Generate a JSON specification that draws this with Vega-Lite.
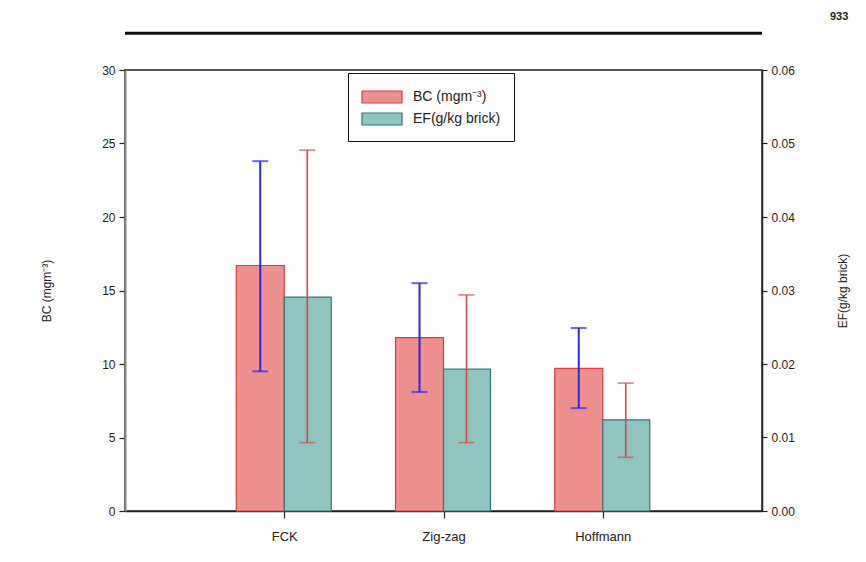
{
  "$schema": "https://vega.github.io/schema/vega-lite/v6.json",
  "width": 637,
  "height": 441,
  "autosize": {"type": "none"},
  "padding": {"left": 125, "top": 70, "right": 104, "bottom": 51},
  "background": "white",
  "title": {"text": "933", "anchor": "end", "frame": "bounds", "fontSize": 11, "fontWeight": "bold", "font": "Liberation Sans", "color": "#222", "offset": 10},
  "config": {
    "font": "Liberation Sans",
    "view": {"stroke": "#222", "strokeWidth": 1.5},
    "axis": {"labelFont": "Liberation Sans", "labelFontSize": 12, "labelColor": "#222", "titleFont": "Liberation Sans", "titleFontSize": 12, "titleFontWeight": "normal", "titleColor": "#222", "grid": false, "domainColor": "#222", "tickColor": "#222", "domainWidth": 1.5, "tickWidth": 1.2}
  },
  "data": {"values": [
    {"kiln": "FCK", "bc": 16.7, "bc_lo": 9.5, "bc_hi": 23.8, "ef": 0.0291, "ef_lo": 0.0093, "ef_hi": 0.0491},
    {"kiln": "Zig-zag", "bc": 11.8, "bc_lo": 8.1, "bc_hi": 15.5, "ef": 0.0193, "ef_lo": 0.0093, "ef_hi": 0.0294},
    {"kiln": "Hoffmann", "bc": 9.7, "bc_lo": 7.0, "bc_hi": 12.45, "ef": 0.0124, "ef_lo": 0.0073, "ef_hi": 0.0174}
  ]},
  "layer": [
    {
      "layer": [
        {
          "mark": {"type": "bar", "width": 48, "xOffset": -24, "strokeWidth": 1.2},
          "encoding": {
            "x": {"field": "kiln", "type": "nominal", "scale": {"type": "point", "domain": ["L", "FCK", "Zig-zag", "Hoffmann", "R"], "padding": 0},
              "axis": {"title": null, "values": ["FCK", "Zig-zag", "Hoffmann"], "tickSize": 7, "labelPadding": 12, "labelFontSize": 13, "labelAngle": 0}},
            "y": {"field": "bc", "type": "quantitative", "title": "BC (mgm⁻³)", "scale": {"domain": [0, 30], "nice": false},
              "axis": {"values": [0, 5, 10, 15, 20, 25, 30], "tickSize": 6, "labelPadding": 4, "titlePadding": 48, "domainColor": "#888", "domainWidth": 2}},
            "fill": {"datum": "BC (mgm⁻³)", "type": "nominal", "scale": {"domain": ["BC (mgm⁻³)", "EF(g/kg brick)"], "range": ["#ef9090", "#90c4bf"]},
              "legend": {"title": null, "orient": "none", "legendX": 223, "legendY": 3, "symbolType": "M-1,-0.6H3V0.6H-1Z", "symbolSize": 400, "symbolStrokeWidth": 1.2, "symbolOpacity": 1, "labelOffset": 30, "padding": 13, "rowPadding": 2, "strokeColor": "#111", "labelFontSize": 14, "labelColor": "#222", "fillColor": "white"}},
            "stroke": {"datum": "BC (mgm⁻³)", "type": "nominal", "scale": {"domain": ["BC (mgm⁻³)", "EF(g/kg brick)"], "range": ["#d83c3c", "#2e7a74"]},
              "legend": {"title": null, "orient": "none", "legendX": 223, "legendY": 3, "symbolType": "M-1,-0.6H3V0.6H-1Z", "symbolSize": 400, "symbolStrokeWidth": 1.2, "symbolOpacity": 1, "labelOffset": 30, "padding": 13, "rowPadding": 2, "strokeColor": "#111", "labelFontSize": 14, "labelColor": "#222", "fillColor": "white"}}
          }
        },
        {
          "mark": {"type": "rule", "xOffset": -24, "color": "#2b2bd6", "strokeWidth": 2},
          "encoding": {
            "x": {"field": "kiln", "type": "nominal"},
            "y": {"field": "bc_lo", "type": "quantitative", "title": "BC (mgm⁻³)", "scale": {"domain": [0, 30], "nice": false}},
            "y2": {"field": "bc_hi"}
          }
        },
        {
          "mark": {"type": "tick", "xOffset": -24, "color": "#2b2bd6", "size": 16, "thickness": 2},
          "encoding": {
            "x": {"field": "kiln", "type": "nominal"},
            "y": {"field": "bc_lo", "type": "quantitative", "title": "BC (mgm⁻³)", "scale": {"domain": [0, 30], "nice": false}}}
        },
        {
          "mark": {"type": "tick", "xOffset": -24, "color": "#2b2bd6", "size": 16, "thickness": 2},
          "encoding": {
            "x": {"field": "kiln", "type": "nominal"},
            "y": {"field": "bc_hi", "type": "quantitative", "title": "BC (mgm⁻³)", "scale": {"domain": [0, 30], "nice": false}}}
        },
        {
          "data": {"values": [{"line": "header"}]},
          "mark": {"type": "rule", "color": "#111", "strokeWidth": 3},
          "encoding": {"y": {"datum": 32.5, "type": "quantitative", "title": "BC (mgm⁻³)", "scale": {"domain": [0, 30], "nice": false}}}
        }
      ]
    },
    {
      "layer": [
        {
          "mark": {"type": "bar", "width": 47, "xOffset": 23.5, "strokeWidth": 1.2},
          "encoding": {
            "x": {"field": "kiln", "type": "nominal"},
            "y": {"field": "ef", "type": "quantitative", "title": "EF(g/kg brick)", "scale": {"domain": [0, 0.06], "nice": false},
              "axis": {"orient": "right", "values": [0, 0.01, 0.02, 0.03, 0.04, 0.05, 0.06], "format": ".2f", "tickSize": 5, "labelPadding": 4, "titleAngle": -90, "titlePadding": 55}},
            "fill": {"datum": "EF(g/kg brick)", "type": "nominal"},
            "stroke": {"datum": "EF(g/kg brick)", "type": "nominal"}
          }
        },
        {
          "mark": {"type": "rule", "xOffset": 23, "color": "#d84848", "strokeWidth": 1.6},
          "encoding": {
            "x": {"field": "kiln", "type": "nominal"},
            "y": {"field": "ef_lo", "type": "quantitative", "title": "EF(g/kg brick)", "scale": {"domain": [0, 0.06], "nice": false}},
            "y2": {"field": "ef_hi"}
          }
        },
        {
          "mark": {"type": "tick", "xOffset": 23, "color": "#d84848", "size": 16, "thickness": 1.6},
          "encoding": {
            "x": {"field": "kiln", "type": "nominal"},
            "y": {"field": "ef_lo", "type": "quantitative", "title": "EF(g/kg brick)", "scale": {"domain": [0, 0.06], "nice": false}}}
        },
        {
          "mark": {"type": "tick", "xOffset": 23, "color": "#d84848", "size": 16, "thickness": 1.6},
          "encoding": {
            "x": {"field": "kiln", "type": "nominal"},
            "y": {"field": "ef_hi", "type": "quantitative", "title": "EF(g/kg brick)", "scale": {"domain": [0, 0.06], "nice": false}}}
        }
      ]
    }
  ],
  "resolve": {"scale": {"y": "independent"}}
}
